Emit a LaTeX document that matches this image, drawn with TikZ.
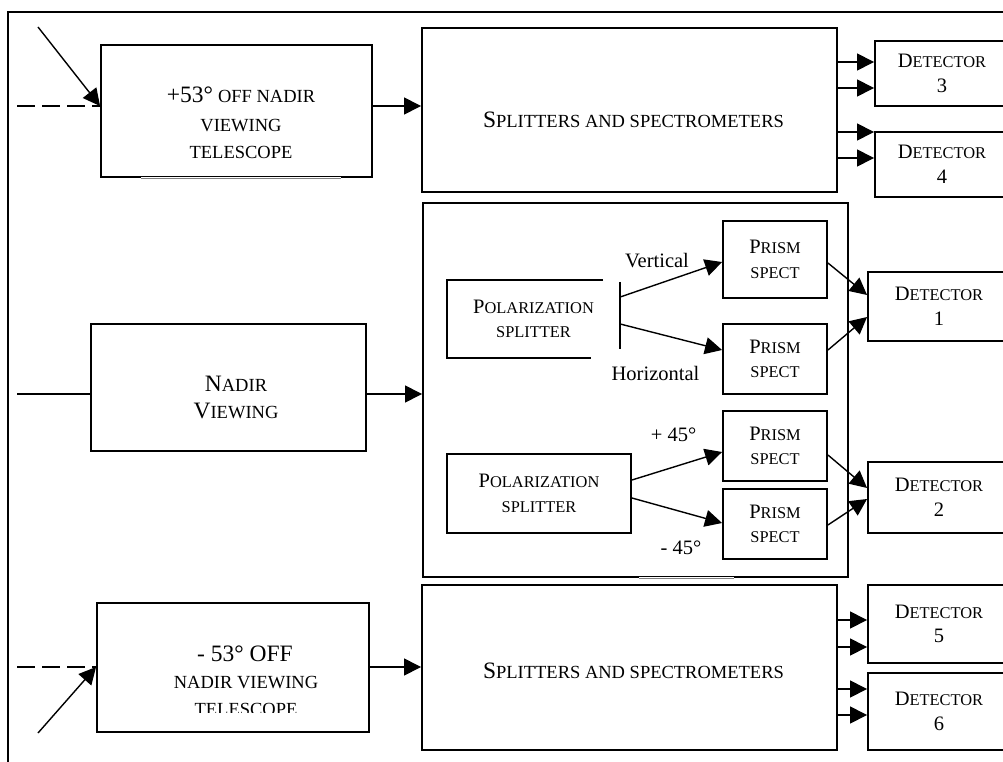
\documentclass[tikz,border=0pt]{standalone}
\usepackage{fontspec}
\setmainfont{Liberation Serif}
\usetikzlibrary{arrows.meta}
\newcommand\BigA{\fontsize{20.5}{24.5}\selectfont}
\newcommand\SmA{\fontsize{16.4}{24.5}\selectfont}
\newcommand\BigB{\fontsize{23.5}{27.5}\selectfont}
\newcommand\SmB{\fontsize{18.5}{27.5}\selectfont}
\newcommand\capsA[2]{{\BigA #1}{\SmA #2}}
\newcommand\capsB[2]{{\BigB #1}{\SmB #2}}
\begin{document}
\begin{tikzpicture}[x=1pt,y=-1pt,
  box/.style={draw, line width=1.9pt, rectangle, inner sep=0pt, align=center, font=\BigA},
  nobox/.style={rectangle, inner sep=0pt, align=center, font=\BigA},
  boxline/.style={line width=1.9pt},
  txt/.style={inner sep=0pt, anchor=base, font=\BigA},
  arr/.style={line width=1.4pt, -{Triangle[length=17pt,width=17pt]}},
  ln/.style={line width=1.4pt},
  dsh/.style={line width=1.4pt, dash pattern=on 17.5pt off 7.5pt},
  frame/.style={line width=1.9pt}]
\useasboundingbox (0,0) rectangle (1003,762);
\clip (0,0) rectangle (1003,762);
\fill[white] (0,0) rectangle (1003,762);

% outer frame
\draw[frame] (8,762) -- (8,12) -- (1003,12);

% top row
\node[box, minimum width=271, minimum height=132] (tel1) at (236.5,111) {};
\draw[white, line width=2.8pt] ([xshift=41pt]tel1.south west) -- ([xshift=-32pt]tel1.south east);
\draw[gray, line width=0.5pt] ([xshift=41pt]tel1.south west) -- ([xshift=-32pt]tel1.south east);
\node[txt] (t1a) at (241,103) {{\BigB +53°} {\SmB OFF NADIR}};
\node[txt] (t1b) at (241,132) {\SmB VIEWING};
\node[txt] (t1c) at (241,159) {\SmB TELESCOPE};

\node[box, minimum width=415, minimum height=164] (split1) at (629.5,110) {};
\node[txt] (s1) at (633.5,128) {\capsB{S}{PLITTERS AND SPECTROMETERS}};

\node[box, minimum width=134, minimum height=65] (det3) at (942,73.5) {\capsA{D}{ETECTOR}\\3};
\node[box, minimum width=134, minimum height=65] (det4) at (942,164.5) {\capsA{D}{ETECTOR}\\4};

% middle row
\node[box, minimum width=275, minimum height=127] (nadir) at (228.5,387.5) {};
\node[txt] (n1) at (236,391) {\capsB{N}{ADIR}};
\node[txt] (n2) at (236,418) {\capsB{V}{IEWING}};

\node[box, minimum width=425, minimum height=374] (mid) at (635.5,390) {};
\draw[white, line width=2.8pt] ([xshift=217pt]mid.south west) -- ([xshift=-115pt]mid.south east);
\draw[gray, line width=0.5pt] ([xshift=217pt]mid.south west) -- ([xshift=-115pt]mid.south east);

\node[nobox, minimum width=173, minimum height=78] (pol1) at (533.5,319) {\capsA{P}{OLARIZATION}\\{\SmA SPLITTER}};
\draw[boxline] ([xshift=-17pt]pol1.north east) -- (pol1.north west) -- (pol1.south west) -- ([xshift=-29pt]pol1.south east);
\draw[boxline] ([yshift=-2pt]pol1.north east) -- ([yshift=9pt]pol1.south east);

\node[box, minimum width=184, minimum height=79] (pol2) at (539,493.5) {\capsA{P}{OLARIZATION}\\{\SmA SPLITTER}};

\node[box, minimum width=104, minimum height=77] (pr1) at (775,259.5) {\capsA{P}{RISM}\\{\SmA SPECT}};
\node[box, minimum width=104, minimum height=70] (pr2) at (775,359) {\capsA{P}{RISM}\\{\SmA SPECT}};
\node[box, minimum width=104, minimum height=70] (pr3) at (775,446) {\capsA{P}{RISM}\\{\SmA SPECT}};
\node[box, minimum width=104, minimum height=70] (pr4) at (775,524) {\capsA{P}{RISM}\\{\SmA SPECT}};

\node[box, minimum width=142, minimum height=69] (det1) at (939,306.5) {\capsA{D}{ETECTOR}\\1};
\node[box, minimum width=142, minimum height=71] (det2) at (939,497.5) {\capsA{D}{ETECTOR}\\2};

\node[txt] (lv) at (657,267) {Vertical};
\node[txt] (lh) at (655.5,380) {Horizontal};
\node[txt] (lp) at (673.5,441) {+ 45°};
\node[txt] (lm) at (681,554) {- 45°};

% bottom row
\node[box, minimum width=272, minimum height=129] (tel2) at (233,667.5) {};
\begin{scope}
\clip (97,603) rectangle (369,712);
\node[txt] (b1) at (245,661) {\BigB - 53° OFF};
\node[txt] (b2) at (246,688) {\SmB NADIR VIEWING};
\node[txt] (b3) at (246,715) {\SmB TELESCOPE};
\end{scope}

\node[box, minimum width=415, minimum height=165] (split2) at (629.5,667.5) {};
\node[txt] (s2) at (633.5,678) {\capsB{S}{PLITTERS AND SPECTROMETERS}};

\node[box, minimum width=142, minimum height=78] (det5) at (939,624) {\capsA{D}{ETECTOR}\\5};
\node[box, minimum width=142, minimum height=77] (det6) at (939,711.5) {\capsA{D}{ETECTOR}\\6};

% inputs
\coordinate (in1d) at (17,106);
\coordinate (in1s) at (38,27);
\draw[dsh] (in1d) -- (tel1.west |- in1d);
\draw[arr] (in1s) -- (tel1.west |- in1d);

\coordinate (in2) at (17,394);
\draw[ln] (in2) -- (nadir.west |- in2);

\coordinate (in3d) at (17,667);
\coordinate (in3s) at (38,733);
\draw[dsh] (in3d) -- (tel2.west |- in3d);
\draw[arr] (in3s) -- (tel2.west |- in3d);

% main connectors
\draw[arr] (tel1.east |- 0,106) -- (split1.west |- 0,106);
\draw[arr] (nadir.east |- 0,394) -- (mid.west |- 0,394);
\draw[arr] (tel2.east |- 0,667) -- (split2.west |- 0,667);

\foreach \yy in {62,88} \draw[arr] (split1.east |- 0,\yy) -- (det3.west |- 0,\yy);
\foreach \yy in {132,158} \draw[arr] (split1.east |- 0,\yy) -- (det4.west |- 0,\yy);
\foreach \yy in {620,647} \draw[arr] (split2.east |- 0,\yy) -- (det5.west |- 0,\yy);
\foreach \yy in {689,715} \draw[arr] (split2.east |- 0,\yy) -- (det6.west |- 0,\yy);

% polarization to prisms
\draw[arr] (pol1.east |- 0,297) -- (pr1.west |- 0,262);
\draw[arr] (pol1.east |- 0,324) -- (pr2.west |- 0,350);
\draw[arr] (pol2.east |- 0,480) -- (pr3.west |- 0,452);
\draw[arr] (pol2.east |- 0,498) -- (pr4.west |- 0,523);

% prisms to detectors
\draw[arr] (pr1.east |- 0,263) -- (det1.west |- 0,295);
\draw[arr] (pr2.east |- 0,350) -- (det1.west |- 0,317);
\draw[arr] (pr3.east |- 0,455) -- (det2.west |- 0,488);
\draw[arr] (pr4.east |- 0,525) -- (det2.west |- 0,499);
\end{tikzpicture}
\end{document}
